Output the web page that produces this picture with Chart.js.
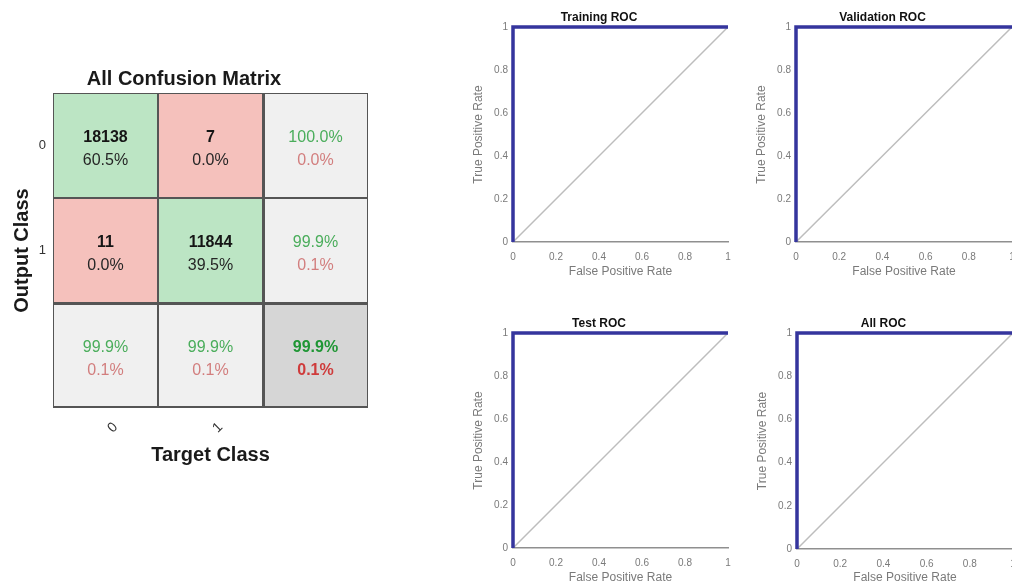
<!DOCTYPE html>
<html>
<head>
<meta charset="utf-8">
<title>Confusion matrix and ROC curves</title>
<script src="https://cdn.jsdelivr.net/npm/chart.js@4/dist/chart.umd.min.js"></script>
<style>
  html, body { margin: 0; padding: 0; background: #ffffff; overflow: hidden; width: 1012px; height: 587px; }
  .panel { position: absolute; }
  .panel canvas { display: block; }
</style>
</head>
<body>
<div class="panel" style="left:0px;top:0px;width:420px;height:480px"><canvas id="confusion"></canvas></div>
<div class="panel" style="left:470px;top:0px;width:270px;height:290px"><canvas id="rocTraining"></canvas></div>
<div class="panel" style="left:753px;top:0px;width:290px;height:290px"><canvas id="rocValidation"></canvas></div>
<div class="panel" style="left:470px;top:306px;width:270px;height:290px"><canvas id="rocTest"></canvas></div>
<div class="panel" style="left:754px;top:306px;width:290px;height:290px"><canvas id="rocAll"></canvas></div>
<script>
// ---- data ----------------------------------------------------------------
// Confusion counts: rows = output class, columns = target class
const classLabels = ['0', '1'];
const confusionCounts = [
  [18138, 7],
  [11, 11844]
];

// ROC curves: false positive rate (x) and true positive rate (y)
const trainingFpr = [0, 0, 1];
const trainingTpr = [0, 1, 1];
const validationFpr = [0, 0, 1];
const validationTpr = [0, 1, 1];
const testFpr = [0, 0, 1];
const testTpr = [0, 1, 1];
const allFpr = [0, 0, 1];
const allTpr = [0, 1, 1];

// Reference "chance" diagonal
const chanceFpr = [0, 1];
const chanceTpr = [0, 1];

const rateTicks = [0, 0.2, 0.4, 0.6, 0.8, 1];

// ---- common settings ---------------------------------------------------------
const FONT = '"Liberation Sans", Arial, Helvetica, sans-serif';
Chart.defaults.font.family = FONT;
Chart.defaults.animation = false;
Chart.defaults.plugins.tooltip.enabled = false;
Chart.defaults.plugins.legend.display = false;

// ---- confusion matrix --------------------------------------------------------
const nClasses = classLabels.length;
const grandTotal = confusionCounts.flat().reduce((a, b) => a + b, 0);
const pct = v => (v * 100).toFixed(1) + '%';

function rowSum(r) { return confusionCounts[r].reduce((a, b) => a + b, 0); }
function colSum(c) { return confusionCounts.reduce((a, row) => a + row[c], 0); }
function correctTotal() { return classLabels.reduce((a, _, i) => a + confusionCounts[i][i], 0); }

// Describe one cell of the (n+1)x(n+1) grid, last row/column being the summaries
function cellInfo(row, col) {
  if (row < nClasses && col < nClasses) {
    const v = confusionCounts[row][col];
    return { kind: row === col ? 'hit' : 'miss', lines: [String(v), pct(v / grandTotal)] };
  }
  if (row < nClasses) {
    const f = confusionCounts[row][row] / rowSum(row);
    return { kind: 'summary', lines: [pct(f), pct(1 - f)] };
  }
  if (col < nClasses) {
    const f = confusionCounts[col][col] / colSum(col);
    return { kind: 'summary', lines: [pct(f), pct(1 - f)] };
  }
  const f = correctTotal() / grandTotal;
  return { kind: 'overall', lines: [pct(f), pct(1 - f)] };
}

const cellFill = { hit: '#bce5c4', miss: '#f5c1bc', summary: '#f0f0f0', overall: '#d6d6d6' };
const columnLabels = classLabels.concat(['']);
// Stacked from the bottom: summary row first, then the class rows in reverse
const rowForDataset = d => nClasses - d;

const matrixDatasets = [];
for (let d = 0; d <= nClasses; d++) {
  const row = rowForDataset(d);
  matrixDatasets.push({
    label: row < nClasses ? classLabels[row] : 'summary',
    data: columnLabels.map(() => 1),
    backgroundColor: columnLabels.map((_, c) => cellFill[cellInfo(row, c).kind]),
    borderColor: '#555555',
    borderSkipped: false,
    inflateAmount: 0,
    borderWidth: ctx => {
      const c = ctx.dataIndex;
      const r = rowForDataset(ctx.datasetIndex);
      return {
        left: c === nClasses ? 2 : 1,
        right: 1,
        top: r === nClasses ? 2 : 1,
        bottom: r === nClasses ? 2 : 1
      };
    },
    barPercentage: 1,
    categoryPercentage: 1
  });
}

const cellTextPlugin = {
  id: 'cellText',
  afterDatasetsDraw(chart) {
    const ctx = chart.ctx;
    ctx.save();
    ctx.textAlign = 'center';
    ctx.textBaseline = 'middle';
    chart.data.datasets.forEach((ds, d) => {
      const meta = chart.getDatasetMeta(d);
      const row = rowForDataset(d);
      meta.data.forEach((el, c) => {
        const info = cellInfo(row, c);
        const cx = el.x;
        const cy = (el.y + el.base) / 2;
        let c1, c2, w1, w2;
        if (info.kind === 'hit' || info.kind === 'miss') {
          c1 = '#151515'; c2 = '#262626'; w1 = 'bold'; w2 = 'normal';
        } else if (info.kind === 'summary') {
          c1 = '#4aad5b'; c2 = '#d27e7e'; w1 = 'normal'; w2 = 'normal';
        } else {
          c1 = '#1f9634'; c2 = '#cf3b3b'; w1 = 'bold'; w2 = 'bold';
        }
        ctx.font = w1 + ' 16px ' + FONT;
        ctx.fillStyle = c1;
        ctx.fillText(info.lines[0], cx, cy - 8);
        ctx.font = w2 + ' 16px ' + FONT;
        ctx.fillStyle = c2;
        ctx.fillText(info.lines[1], cx, cy + 15);
      });
    });
    ctx.restore();
  }
};

const rowCenters = classLabels.map((_, r) => nClasses - r + 0.5);

new Chart(document.getElementById('confusion'), {
  type: 'bar',
  data: { labels: columnLabels, datasets: matrixDatasets },
  plugins: [cellTextPlugin],
  options: {
    responsive: true,
    maintainAspectRatio: false,
    layout: { padding: { left: 0, right: 52, top: 0, bottom: 0 } },
    plugins: {
      title: {
        display: true,
        text: 'All Confusion Matrix',
        color: '#1a1a1a',
        font: { size: 20, weight: 'bold' },
        padding: { top: 67, bottom: 2 }
      }
    },
    scales: {
      x: {
        stacked: true,
        grid: { display: false, drawTicks: false },
        border: { display: false },
        afterFit: s => { s.height = 72; },
        ticks: { color: '#333333', font: { size: 14 }, minRotation: 45, maxRotation: 45, padding: 11, labelOffset: 10 },
        title: { display: true, text: 'Target Class', color: '#1a1a1a', font: { size: 20, weight: 'bold' }, padding: { top: 0, bottom: 13 } }
      },
      y: {
        stacked: true,
        min: 0,
        max: nClasses + 1,
        grid: { display: false, drawTicks: false },
        border: { display: false },
        afterFit: s => { s.width = 53; },
        afterBuildTicks: s => { s.ticks = rowCenters.map(v => ({ value: v })); },
        ticks: {
          color: '#333333',
          font: { size: 13 },
          padding: 7,
          callback: v => classLabels[rowCenters.indexOf(v)]
        },
        title: { display: true, text: 'Output Class', color: '#1a1a1a', font: { size: 20, weight: 'bold' }, padding: { top: 10, bottom: 0 } }
      }
    }
  }
});

// ---- ROC panels --------------------------------------------------------------
function toPoints(xs, ys) { return xs.map((x, i) => ({ x: x, y: ys[i] })); }

function rocChart(id, title, fpr, tpr, rightPad, xAxisHeight) {
  new Chart(document.getElementById(id), {
    type: 'scatter',
    data: {
      datasets: [
        { label: title, data: toPoints(fpr, tpr), showLine: true, borderColor: '#35359d', borderWidth: 3.5, pointRadius: 0, tension: 0, clip: false },
        { label: 'chance', data: toPoints(chanceFpr, chanceTpr), showLine: true, borderColor: '#bdbdbd', borderWidth: 1.5, pointRadius: 0, tension: 0 }
      ]
    },
    options: {
      responsive: true,
      maintainAspectRatio: false,
      layout: { padding: { left: 0, right: rightPad, top: 0, bottom: 0 } },
      plugins: {
        title: {
          display: true,
          text: title,
          color: '#111111',
          font: { size: 12, weight: 'bold' },
          padding: { top: 10, bottom: 2.6 }
        }
      },
      scales: {
        x: {
          type: 'linear',
          min: 0,
          max: 1,
          afterFit: s => { s.height = xAxisHeight; },
          afterBuildTicks: s => { s.ticks = rateTicks.map(v => ({ value: v })); },
          grid: { display: false, drawTicks: false },
          border: { display: true, color: '#8f8f8f', width: 1.5 },
          ticks: { color: '#7a7a7a', font: { size: 10 }, padding: 9, maxRotation: 0, callback: v => String(v) },
          title: { display: true, text: 'False Positive Rate', color: '#7a7a7a', font: { size: 12 }, padding: { top: 0, bottom: 10.8 } }
        },
        y: {
          type: 'linear',
          min: 0,
          max: 1,
          afterFit: s => { s.width = 43; },
          afterBuildTicks: s => { s.ticks = rateTicks.map(v => ({ value: v })); },
          grid: { display: false, drawTicks: false },
          border: { display: false },
          ticks: { color: '#7a7a7a', font: { size: 10 }, padding: 5, callback: v => String(v) },
          title: { display: true, text: 'True Positive Rate', color: '#7a7a7a', font: { size: 12 }, padding: { top: 1, bottom: 0 } }
        }
      }
    }
  });
}

rocChart('rocTraining', 'Training ROC', trainingFpr, trainingTpr, 12, 48);
rocChart('rocValidation', 'Validation ROC', validationFpr, validationTpr, 31, 48);
rocChart('rocTest', 'Test ROC', testFpr, testTpr, 12, 48);
rocChart('rocAll', 'All ROC', allFpr, allTpr, 31, 47);
</script>
</body>
</html>
